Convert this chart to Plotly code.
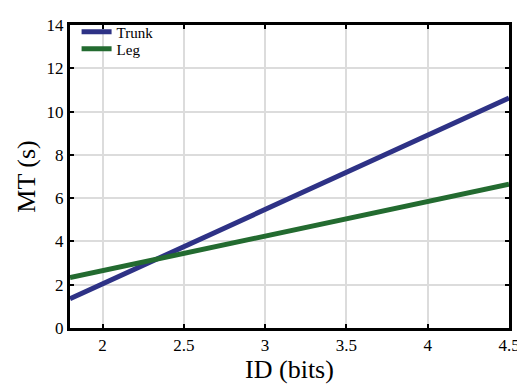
import plotly.graph_objects as go

id_bits = [1.8, 4.5]
trunk_mt = [1.35, 10.63]
leg_mt = [2.33, 6.64]
x_ticks = [2, 2.5, 3, 3.5, 4, 4.5]
y_ticks = [0, 2, 4, 6, 8, 10, 12, 14]

SERIF = "Liberation Serif, Times New Roman, serif"

fig = go.Figure()
fig.add_trace(go.Scatter(x=id_bits, y=trunk_mt, mode="lines", name="Trunk",
                         line=dict(color="#2e3286", width=5), legend="legend"))
fig.add_trace(go.Scatter(x=id_bits, y=leg_mt, mode="lines", name="Leg",
                         line=dict(color="#236b30", width=5), legend="legend2"))

axis_common = dict(showline=True, linecolor="black", linewidth=3, mirror="ticks",
                   ticks="inside", ticklen=4, tickwidth=2, tickcolor="black",
                   showgrid=True, gridcolor="#dcdcdc", gridwidth=2, zeroline=False,
                   automargin=False, layer="above traces", ticklabeloverflow="allow",
                   tickfont=dict(family=SERIF, size=17, color="black"))

fig.update_xaxes(range=[1.8, 4.5], tickvals=x_ticks, ticktext=[str(v) for v in x_ticks],
                 title=dict(text="ID (bits)", font=dict(family=SERIF, size=26, color="black"),
                            standoff=2),
                 **axis_common)
fig.update_yaxes(range=[0, 14], tickvals=y_ticks,
                 title=dict(text="MT (s)", font=dict(family=SERIF, size=26, color="black"),
                            standoff=4),
                 **axis_common)

legend_style = dict(xanchor="left", yanchor="top", bgcolor="rgba(0,0,0,0)",
                    font=dict(family=SERIF, size=15, color="black"), itemwidth=30)

# page body has an 8px margin, so the figure is sized/offset to land the plot
# area where the reference has it
fig.update_layout(width=517, height=380, margin=dict(l=62, r=16, t=8, b=60),
                  font=dict(family=SERIF, color="black"),
                  plot_bgcolor="white", paper_bgcolor="white",
                  legend=dict(x=0.015, y=1.031, **legend_style),
                  legend2=dict(x=0.015, y=0.975, **legend_style),
                  showlegend=True)

fig.write_html("out.html")
